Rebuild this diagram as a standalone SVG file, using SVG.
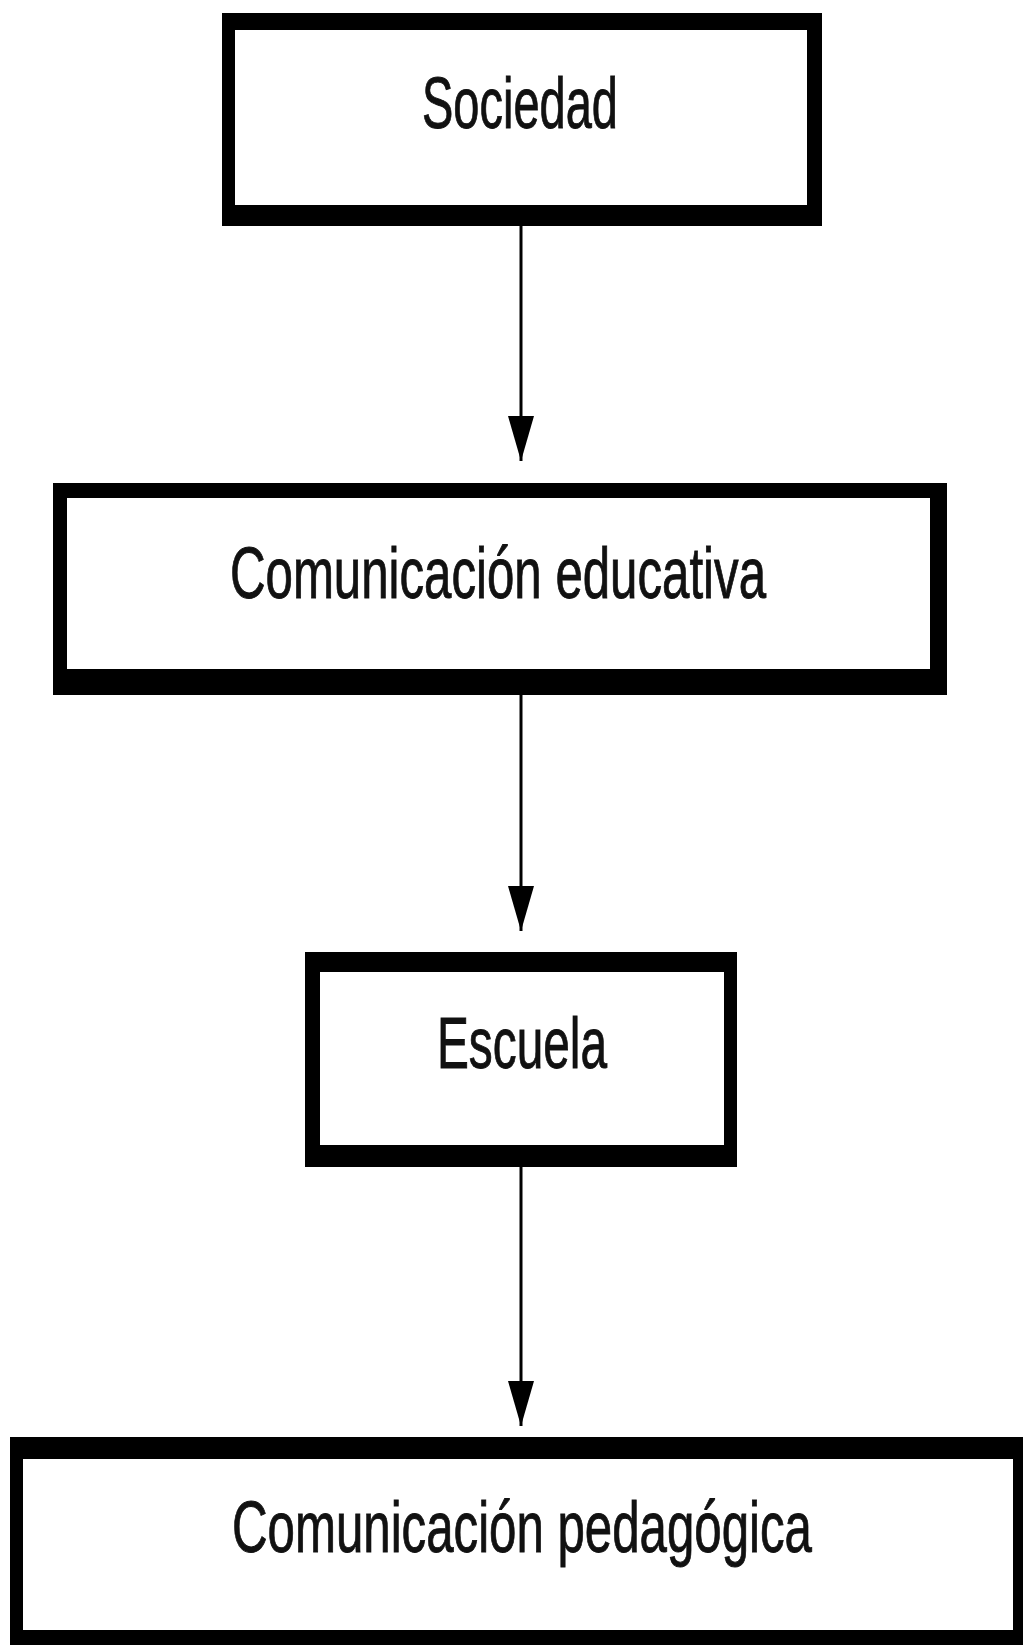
<svg xmlns="http://www.w3.org/2000/svg" width="1023" height="1645" viewBox="0 0 1023 1645">
  <style>
    .frame { fill: #000; }
    .inner { fill: #fff; }
    .label { font-family: "Liberation Sans", Arial, sans-serif; font-size: 72px; fill: #111; stroke: #111; stroke-width: 0.9; text-anchor: middle; }
    .conn { stroke: #000; stroke-width: 3; fill: none; }
  </style>
  <defs>
    <marker id="arrow" markerUnits="userSpaceOnUse" viewBox="0 0 45 26" markerWidth="45" markerHeight="26" refX="45" refY="13" orient="auto">
      <path d="M0,0 L45,13 L0,26 Z" fill="#000"/>
    </marker>
  </defs>
  <rect width="1023" height="1645" fill="#fff"/>

  <g id="node-sociedad">
    <rect class="frame" x="222" y="13" width="600" height="213"/>
    <rect class="inner" x="235" y="30" width="572" height="175"/>
    <text class="label" x="520" y="128" textLength="196" lengthAdjust="spacingAndGlyphs">Sociedad</text>
  </g>

  <g id="node-comunicacion-educativa">
    <rect class="frame" x="53" y="483" width="894" height="212"/>
    <rect class="inner" x="67" y="498" width="863" height="171"/>
    <text class="label" x="498" y="598" textLength="536" lengthAdjust="spacingAndGlyphs">Comunicación educativa</text>
  </g>

  <g id="node-escuela">
    <rect class="frame" x="305" y="952" width="432" height="215"/>
    <rect class="inner" x="320" y="972" width="404" height="173"/>
    <text class="label" x="522" y="1068" textLength="170" lengthAdjust="spacingAndGlyphs">Escuela</text>
  </g>

  <g id="node-comunicacion-pedagogica">
    <rect class="frame" x="10" y="1437" width="1013" height="208"/>
    <rect class="inner" x="23" y="1459" width="990" height="171"/>
    <text class="label" x="522" y="1552" textLength="580" lengthAdjust="spacingAndGlyphs">Comunicación pedagógica</text>
  </g>

  <g id="connectors">
    <line class="conn" x1="521" y1="226" x2="521" y2="461" marker-end="url(#arrow)"/>
    <line class="conn" x1="521" y1="695" x2="521" y2="931" marker-end="url(#arrow)"/>
    <line class="conn" x1="521" y1="1167" x2="521" y2="1426" marker-end="url(#arrow)"/>
  </g>
</svg>
